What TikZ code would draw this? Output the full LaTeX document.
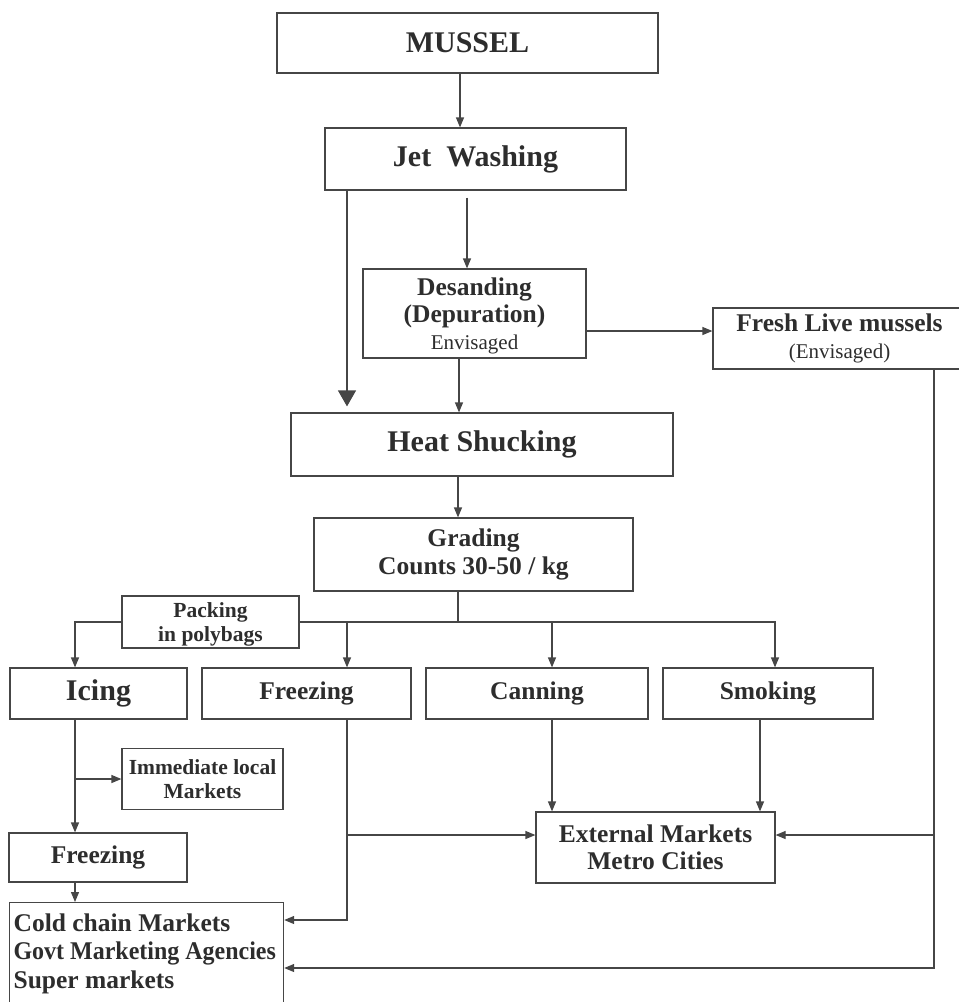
\documentclass[tikz,border=0pt]{standalone}
\usepackage{fontspec}
\setmainfont{Liberation Serif}
\usetikzlibrary{arrows.meta}
\definecolor{flowline}{RGB}{70, 70, 70}
\definecolor{flowtext}{RGB}{45, 45, 45}
\newcommand{\boxbig}{\fontsize{30}{33}\selectfont\bfseries}
\newcommand{\boxmid}{\fontsize{25.5}{28.5}\selectfont\bfseries}
\newcommand{\boxsmall}{\fontsize{21.5}{24}\selectfont\bfseries}
\newcommand{\boxnote}{\fontsize{21}{24}\selectfont\mdseries}

\begin{document}
\begin{tikzpicture}[x=1pt, y=-1pt,
    box/.style={draw=flowline, line width=1.2pt, text=flowtext, align=center,
      inner sep=0pt, font=\boxmid},
    link/.style={draw=flowline, line width=1.2pt},
    arr/.style={link, -{Triangle[length=10pt, width=8pt]}}]
			\useasboundingbox (0,0) rectangle (959,1002);

			\node[box, font=\boxbig, minimum width=381pt, minimum height=60pt] (mussel) at (467.5, 43) {MUSSEL};
			\node[box, font=\boxbig, minimum width=301pt, minimum height=62pt] (jet) at (475.5, 159) {Jet\ \ Washing};
			\node[box, minimum width=223pt, minimum height=89pt] (desand) at (474.5, 313.5) {\rule{0pt}{22pt}Desanding\\[-1pt](Depuration)\\[-2pt]{\boxnote Envisaged}};
			\node[box, minimum width=253pt, minimum height=61pt] (fresh) at (839.5, 338.5) {Fresh Live mussels\\[-2pt]{\boxnote (Envisaged)}};
			\node[box, font=\boxbig, minimum width=382pt, minimum height=63pt] (heat) at (482, 444.5) {Heat Shucking};
			\node[box, minimum width=319pt, minimum height=73pt] (grading) at (473.5, 554.5) {Grading\\Counts 30-50 / kg};
			\node[box, font=\boxsmall, minimum width=177pt, minimum height=52pt] (packing) at (210.5, 622) {\rule{0pt}{20pt}Packing\\in polybags};

			\node[box, font=\boxbig, minimum width=177pt, minimum height=51pt] (icing) at (98.5, 693.5) {Icing};
			\node[box, minimum width=209pt, minimum height=51pt] (freezing) at (306.5, 693.5) {Freezing};
			\node[box, minimum width=222pt, minimum height=51pt] (canning) at (537, 693.5) {Canning};
			\node[box, minimum width=210pt, minimum height=51pt] (smoking) at (768, 693.5) {Smoking};

			\node[box, font=\boxsmall, minimum width=161pt, minimum height=61pt] (immediate) at (202.5, 779) {Immediate local\\Markets};
			\node[box, minimum width=178pt, minimum height=49pt] (frozen) at (98, 857.5) {Freezing};
			\node[box, minimum width=239pt, minimum height=71pt] (external) at (655.5, 847.5) {External Markets\\[-1pt]Metro Cities};
			\node[box, anchor=north west, inner xsep=4pt, inner ysep=11pt] (coldchain) at (9, 902)
			  {\begin{minipage}[c][100pt][t]{266pt}Cold chain Markets\\\scalebox{0.94}[1]{Govt Marketing Agencies}\\Super markets\end{minipage}};

			\draw[arr] (mussel.south -| 460,0) -- (jet.north -| 460,0);
			\draw[arr, shorten <=7pt] (jet.south -| 467,0) -- (desand.north -| 467,0);
			\draw[link, -{Triangle[length=16pt, width=18pt]}, shorten >=6pt] (jet.south -| 347,0) -- (heat.north -| 347,0);
			\draw[arr] (desand.east |- 0,331) -- (fresh.west |- 0,331);
			\draw[arr] (desand.south -| 459,0) -- (heat.north -| 459,0);
			\draw[arr] (heat.south -| 458,0) -- (grading.north -| 458,0);

			\draw[link] (grading.south -| 458,0) -- (packing.east -| 458,0);
			\draw[arr] (packing.west) -| (icing.north -| 75,0);
			\draw[arr] (packing.east) -| (smoking.north -| 775,0);
			\draw[arr] (packing.east -| 347,0) -- (freezing.north -| 347,0);
			\draw[arr] (packing.east -| 552,0) -- (canning.north -| 552,0);

			\draw[arr] (icing.south -| 75,0) -- (frozen.north -| 75,0);
			\draw[arr] (immediate.west -| 75,0) -- (immediate.west);
			\draw[arr] (frozen.south -| 75,0) -- (coldchain.north -| 75,0);

			\coordinate (fzjoin) at (347, 835);
			\draw[arr] (freezing.south -| 347,0) |- (coldchain.east |- 0,920);
			\draw[arr] (fzjoin) -- (external.west |- fzjoin);
			\draw[arr] (canning.south -| 552,0) -- (external.north -| 552,0);
			\draw[arr] (smoking.south -| 760,0) -- (external.north -| 760,0);

			\coordinate (frjoin) at (934, 835);
			\draw[arr] (fresh.south -| 934,0) |- (coldchain.east |- 0,968);
			\draw[arr] (frjoin) -- (external.east |- frjoin);
		\end{tikzpicture}
\end{document}
